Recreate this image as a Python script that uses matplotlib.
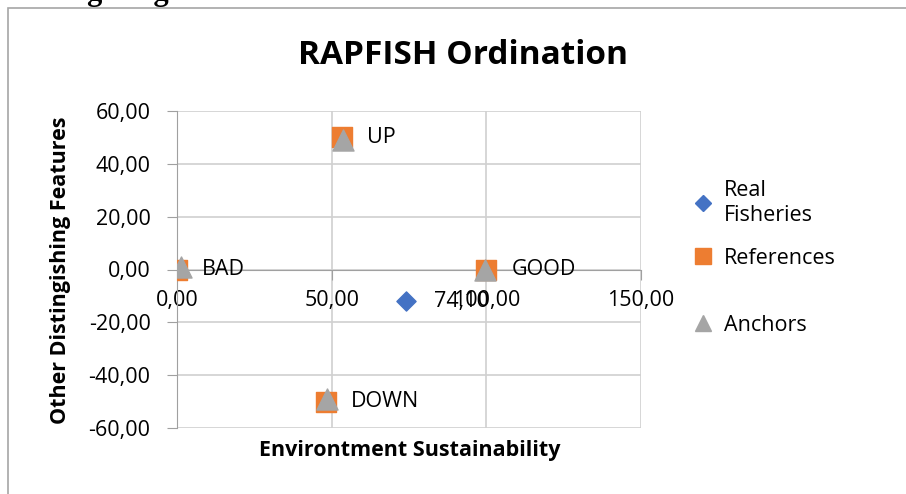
import matplotlib.pyplot as plt
from matplotlib.patches import Rectangle
from matplotlib.lines import Line2D
from matplotlib.ticker import FuncFormatter

# data
fisheries_x = [74.10]
fisheries_y = [-12.10]

ref_labels = ['GOOD', 'BAD', 'UP', 'DOWN']
ref_x = [100.0, 0.0, 53.2, 48.2]
ref_y = [0.0, 0.0, 50.0, -50.0]

anchor_x = [99.5, 1.2, 53.8, 48.5]
anchor_y = [0.0, 0.8, 49.0, -49.2]

x_ticks = [0, 50, 100, 150]
y_ticks = [-60, -40, -20, 0, 20, 40, 60]

plt.rcParams['font.family'] = ['Open Sans', 'DejaVu Sans']

fig = plt.figure(figsize=(9.06, 4.94), dpi=100)
W, H = 906, 494
ax = fig.add_axes([177 / W, 1 - 428 / H, (641 - 177) / W, (428 - 111) / H])

# outer chart box (cropped on right and bottom)
fig.patches.append(Rectangle((8 / W, -0.1), 1.2, 1 - 8 / H + 0.1, transform=fig.transFigure,
                             fill=False, edgecolor='#a6a6a6', lw=1.2))
# cropped heading from the page above the chart
fig.text(-4 / W, 1 - 0 / H, 'nsi Lingkungan', family='Liberation Serif', weight='bold',
         fontsize=22, ha='left', va='baseline')

blue = '#4472C4'
orange = '#ED7D31'
grey = '#A5A5A5'

ax.scatter(fisheries_x, fisheries_y, marker='D', s=95, color=blue, zorder=5)
ax.scatter(ref_x, ref_y, marker='s', s=200, color=orange, zorder=5)
ax.scatter(anchor_x, anchor_y, marker='^', s=230, color=grey, zorder=6)

for lab, x, y in zip(ref_labels, ref_x, ref_y):
    ax.annotate(lab, (x, y), xytext=(18, 0), textcoords='offset points',
                fontsize=15.5, va='center', ha='left', zorder=7)
for x, y in zip(fisheries_x, fisheries_y):
    ax.annotate(f'{x:.2f}'.replace('.', ','), (x, y), xytext=(20, 0), textcoords='offset points',
                fontsize=15.5, va='center', ha='left', zorder=7)

ax.set_xlim(0, 150)
ax.set_ylim(-60, 60)
ax.set_xticks(x_ticks)
ax.set_yticks(y_ticks)
fmt = FuncFormatter(lambda v, p: f'{v:.2f}'.replace('.', ','))
ax.xaxis.set_major_formatter(fmt)
ax.yaxis.set_major_formatter(fmt)
ax.tick_params(labelsize=15.5, labelcolor='black', length=7, color='#a0a0a0')
ax.tick_params(axis='y', pad=12)
ax.tick_params(axis='x', pad=8)

ax.grid(True, color='#d0d0d0', lw=1.2)
ax.set_axisbelow(True)
for s in ['top', 'right']:
    ax.spines[s].set_visible(False)
ax.spines['bottom'].set_position(('data', 0))
ax.spines['bottom'].set_color('#a0a0a0')
ax.spines['left'].set_color('#a0a0a0')

fig.text(463 / W, 1 - 55 / H, 'RAPFISH Ordination', fontsize=24, weight='bold',
         ha='center', va='center')
fig.text(410 / W, 1 - 450 / H, 'Environtment Sustainability', fontsize=15.5, weight='bold',
         ha='center', va='center')
fig.text(61 / W, 1 - 270 / H, 'Other Distingishing Features', fontsize=15.5, weight='bold',
         ha='center', va='center', rotation=90)

# legend entries, placed one by one like the spreadsheet legend
entries = [
    (Line2D([], [], ls='none', marker='D', ms=8, color=blue), 'Real\nFisheries', 203),
    (Line2D([], [], ls='none', marker='s', ms=11, color=orange), 'References', 258),
    (Line2D([], [], ls='none', marker='^', ms=12, color=grey), 'Anchors', 325),
]
for handle, label, yc in entries:
    fig.legend([handle], [label], loc='center left', bbox_to_anchor=(692 / W, 1 - yc / H),
               frameon=False, fontsize=15.5, handletextpad=0.5, handlelength=1.0,
               borderaxespad=0, borderpad=0, labelspacing=0)

fig.savefig('out.png', dpi=100)
